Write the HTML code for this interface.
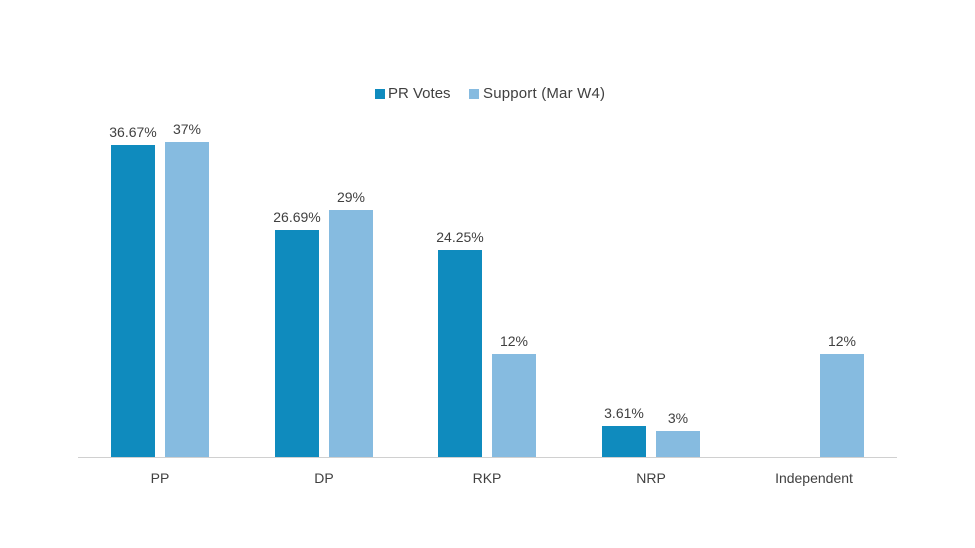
<!DOCTYPE html>
<html><head><meta charset="utf-8"><style>
html,body{margin:0;padding:0;background:#fff;}
svg{display:block;}
text{font-family:"Liberation Sans",sans-serif;fill:#404040;}
</style></head><body>
<svg width="975" height="548" viewBox="0 0 975 548" xmlns="http://www.w3.org/2000/svg">
<rect width="975" height="548" fill="#fff"/>
<!-- legend -->
<rect x="375" y="89" width="10" height="10" fill="#0F8BBE"/>
<text x="388" y="98" font-size="15">PR Votes</text>
<rect x="469" y="89" width="10" height="10" fill="#86BBE0"/>
<text x="483" y="98" font-size="15" textLength="122">Support (Mar W4)</text>
<!-- bars -->
<g fill="#0F8BBE">
<rect x="111" y="145" width="44" height="312"/>
<rect x="275" y="230" width="44" height="227"/>
<rect x="438" y="250" width="44" height="207"/>
<rect x="602" y="426" width="44" height="31"/>
</g>
<g fill="#86BBE0">
<rect x="165" y="142" width="44" height="315"/>
<rect x="329" y="210" width="44" height="247"/>
<rect x="492" y="354" width="44" height="103"/>
<rect x="656" y="431" width="44" height="26"/>
<rect x="820" y="354" width="44" height="103"/>
</g>
<line x1="78" y1="457.5" x2="897" y2="457.5" stroke="#d0d0d0" stroke-width="1"/>
<g font-size="14" text-anchor="middle">
<text x="133" y="137">36.67%</text>
<text x="187" y="134">37%</text>
<text x="297" y="222">26.69%</text>
<text x="351" y="202">29%</text>
<text x="460" y="242">24.25%</text>
<text x="514" y="346">12%</text>
<text x="624" y="418">3.61%</text>
<text x="678" y="423">3%</text>
<text x="842" y="346">12%</text>
<text x="160" y="483">PP</text>
<text x="324" y="483">DP</text>
<text x="487" y="483">RKP</text>
<text x="651" y="483">NRP</text>
<text x="814" y="483">Independent</text>
</g>
</svg>
</body></html>
